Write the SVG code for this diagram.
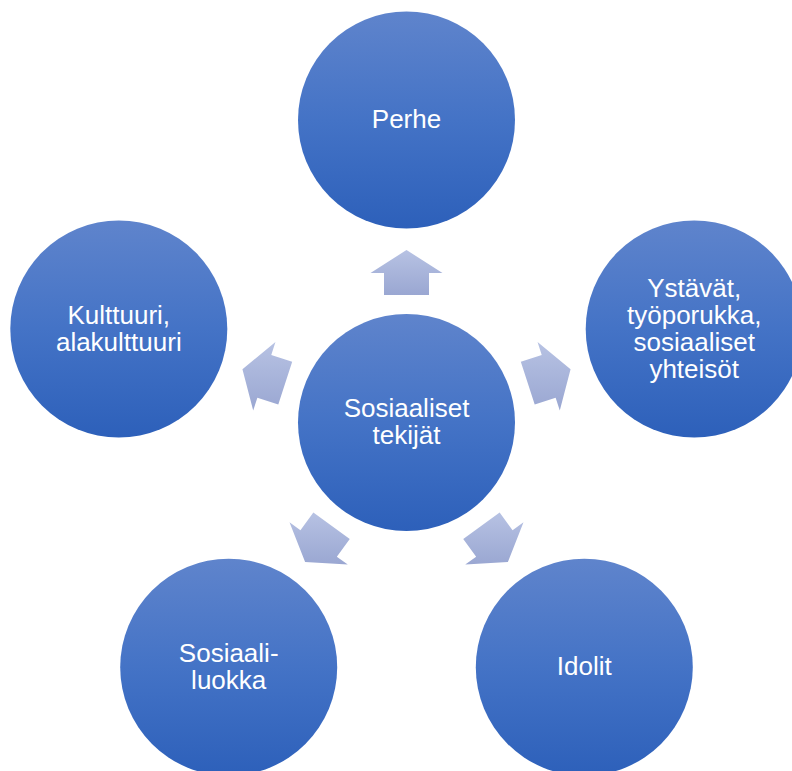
<svg xmlns="http://www.w3.org/2000/svg" width="792" height="771" viewBox="0 0 792 771">
<defs>
<linearGradient id="gc" x1="0" y1="0" x2="0" y2="1">
<stop offset="0" stop-color="#5F84CC"/>
<stop offset="0.5" stop-color="#4473C6"/>
<stop offset="1" stop-color="#2D60BA"/>
</linearGradient>
<linearGradient id="ga" x1="0" y1="0" x2="0" y2="1">
<stop offset="0" stop-color="#B7C2E3"/>
<stop offset="1" stop-color="#9AA7D2"/>
</linearGradient>
<style>
.n{fill:url(#gc);}
.a{fill:url(#ga);}
.t{font-family:"Liberation Sans",Arial,sans-serif;font-size:26px;fill:#FFFFFF;text-anchor:middle;}
</style>
</defs>
<rect width="792" height="771" fill="#FFFFFF"/>
<g id="connectors">
<polygon class="a" points="406.5,250 442.5,273 429,273 429,295 384,295 384,273 370.5,273"/>
<polygon class="a" points="570.56,369.19 559.80,410.54 555.63,397.70 534.71,404.50 520.81,361.70 541.73,354.90 537.56,342.06"/>
<polygon class="a" points="507.89,562.06 465.25,564.61 476.17,556.68 463.24,538.88 499.64,512.42 512.57,530.22 523.5,522.29"/>
<polygon class="a" points="305.11,562.06 347.75,564.61 336.83,556.68 349.76,538.88 313.36,512.42 300.43,530.22 289.5,522.29"/>
<polygon class="a" points="242.44,369.19 253.20,410.54 257.37,397.70 278.29,404.50 292.19,361.70 271.27,354.90 275.44,342.06"/>
</g>
<g id="center">
<circle class="n" cx="406.5" cy="422.5" r="108.5"/>
<text class="t" x="406.5" y="417"><tspan x="406.5">Sosiaaliset</tspan><tspan x="406.5" dy="27">tekijät</tspan></text>
</g>
<g id="perhe">
<circle class="n" cx="406.5" cy="120" r="108.5"/>
<text class="t" x="406.5" y="128">Perhe</text>
</g>
<g id="ystavat">
<circle class="n" cx="694.2" cy="329" r="108.5"/>
<text class="t" x="694.2" y="296.5"><tspan x="694.2">Ystävät,</tspan><tspan x="694.2" dy="27">työporukka,</tspan><tspan x="694.2" dy="27">sosiaaliset</tspan><tspan x="694.2" dy="27">yhteisöt</tspan></text>
</g>
<g id="idolit">
<circle class="n" cx="584.3" cy="667.2" r="108.5"/>
<text class="t" x="584.3" y="675">Idolit</text>
</g>
<g id="sosiaaliluokka">
<circle class="n" cx="228.7" cy="667.2" r="108.5"/>
<text class="t" x="228.7" y="661.5"><tspan x="228.7">Sosiaali-</tspan><tspan x="228.7" dy="27">luokka</tspan></text>
</g>
<g id="kulttuuri">
<circle class="n" cx="118.8" cy="329" r="108.5"/>
<text class="t" x="118.8" y="323.5"><tspan x="118.8">Kulttuuri,</tspan><tspan x="118.8" dy="27">alakulttuuri</tspan></text>
</g>
</svg>
